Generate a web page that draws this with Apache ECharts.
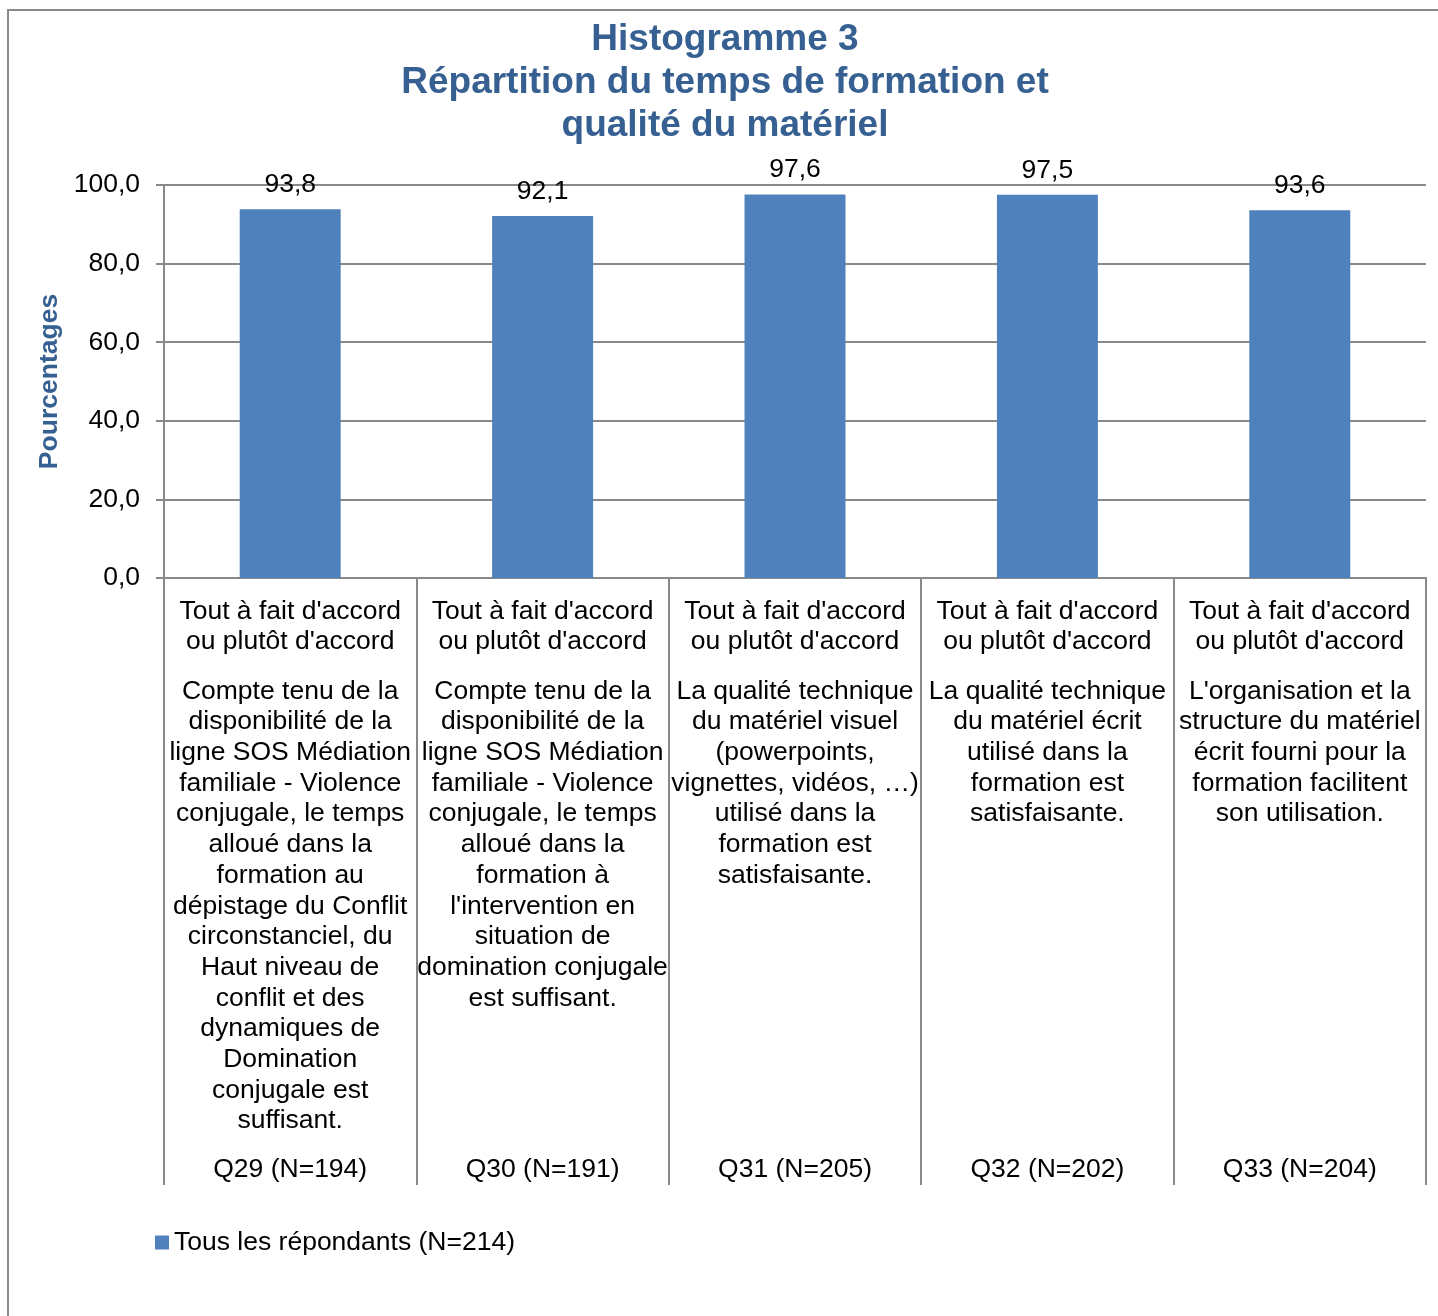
<!DOCTYPE html>
<html>
<head>
<meta charset="utf-8">
<title>Histogramme 3</title>
<script src="https://cdn.jsdelivr.net/npm/echarts@6/dist/echarts.min.js"></script>
<style>
  html, body { margin: 0; padding: 0; background: #fff; }
  #chart { width: 1438px; height: 1316px; }
</style>
</head>
<body>
<div id="chart"></div>
<script>
// données
const reponses = [
  "Tout à fait d'accord\nou plutôt d'accord",
  "Tout à fait d'accord\nou plutôt d'accord",
  "Tout à fait d'accord\nou plutôt d'accord",
  "Tout à fait d'accord\nou plutôt d'accord",
  "Tout à fait d'accord\nou plutôt d'accord"
];
const enonces = [
  "Compte tenu de la\ndisponibilité de la\nligne SOS Médiation\nfamiliale - Violence\nconjugale, le temps\nalloué dans la\nformation au\ndépistage du Conflit\ncirconstanciel, du\nHaut niveau de\nconflit et des\ndynamiques de\nDomination\nconjugale est\nsuffisant.",
  "Compte tenu de la\ndisponibilité de la\nligne SOS Médiation\nfamiliale - Violence\nconjugale, le temps\nalloué dans la\nformation à\nl'intervention en\nsituation de\ndomination conjugale\nest suffisant.",
  "La qualité technique\ndu matériel visuel\n(powerpoints,\nvignettes, vidéos, …)\nutilisé dans la\nformation est\nsatisfaisante.",
  "La qualité technique\ndu matériel écrit\nutilisé dans la\nformation est\nsatisfaisante.",
  "L'organisation et la\nstructure du matériel\nécrit fourni pour la\nformation facilitent\nson utilisation."
];
const questions = ['Q29 (N=194)', 'Q30 (N=191)', 'Q31 (N=205)', 'Q32 (N=202)', 'Q33 (N=204)'];
const valeurs = [93.8, 92.1, 97.6, 97.5, 93.6];
const nomSerie = 'Tous les répondants (N=214)';

const fmt = v => v.toFixed(1).replace('.', ',');
const police = 'Liberation Sans, Arial, sans-serif';
const gris = '#898989';
const taille = 26.5;

const myChart = echarts.init(document.getElementById('chart'));

// un axe par niveau d'étiquettes (style Excel multi-niveaux)
const axeNiveau = (data, margin, visible) => ({
  type: 'category',
  data: data,
  gridIndex: 0,
  position: 'bottom',
  axisLine: { show: visible, lineStyle: { color: gris, width: 2 } },
  axisTick: {
    show: visible,
    interval: 0,
    length: 607,
    lineStyle: { color: gris, width: 2 }
  },
  axisLabel: {
    interval: 0,
    margin: margin,
    color: '#000',
    fontFamily: police,
    fontSize: taille,
    lineHeight: 30.7,
    verticalAlign: 'top'
  }
});

const option = {
  backgroundColor: '#fff',
  animation: false,
  textStyle: { fontFamily: police },
  title: {
    text: 'Histogramme 3\nRépartition du temps de formation et\nqualité du matériel',
    left: 720,
    textAlign: 'center',
    top: 13,
    textStyle: {
      color: '#376092',
      fontSize: 37,
      fontWeight: 'bold',
      lineHeight: 43,
      fontFamily: police
    }
  },
  legend: {
    left: 150,
    top: 1224,
    itemWidth: 14,
    itemHeight: 14,
    icon: 'rect',
    textStyle: { color: '#000', fontSize: taille, fontFamily: police },
    data: [nomSerie]
  },
  grid: { left: 164, right: 12, top: 185, bottom: 738 },
  xAxis: [
    axeNiveau(reponses, 18, true),
    axeNiveau(enonces, 98, false),
    axeNiveau(questions, 576, false)
  ],
  yAxis: {
    type: 'value',
    min: 0,
    max: 100,
    interval: 20,
    name: 'Pourcentages',
    nameLocation: 'middle',
    nameGap: 100,
    nameRotate: 90,
    nameTextStyle: { color: '#376092', fontSize: taille, fontWeight: 'bold', fontFamily: police },
    axisLine: { show: true, lineStyle: { color: gris, width: 2 } },
    axisTick: { show: true, length: 8, lineStyle: { color: gris, width: 2 } },
    axisLabel: {
      color: '#000', fontSize: taille, fontFamily: police, margin: 24,
      padding: [4, 0, 0, 0], formatter: fmt
    },
    splitLine: { lineStyle: { color: gris, width: 2 } }
  },
  series: [{
    name: nomSerie,
    type: 'bar',
    xAxisIndex: 0,
    data: valeurs,
    barCategoryGap: '60%',
    itemStyle: { color: '#4F81BD' },
    label: {
      show: true,
      position: 'top',
      distance: 11,
      color: '#000',
      fontSize: taille,
      fontFamily: police,
      formatter: p => fmt(p.value)
    }
  }],
  graphic: [{
    type: 'rect',
    silent: true,
    shape: { x: 8, y: 10, width: 1500, height: 1500 },
    style: { fill: 'none', stroke: '#8a8a8a', lineWidth: 2 }
  }]
};

myChart.setOption(option);
window.addEventListener('resize', () => myChart.resize());
</script>
</body>
</html>
